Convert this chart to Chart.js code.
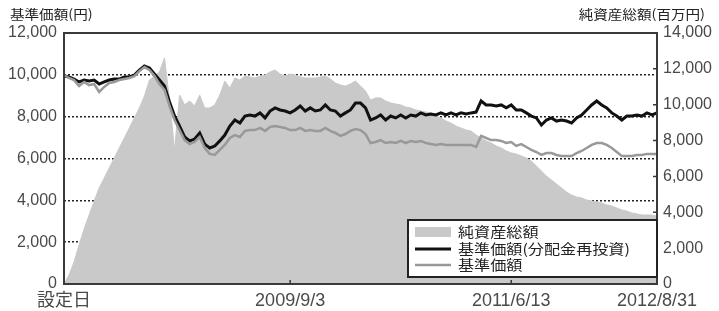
<!DOCTYPE html>
<html>
<head>
<meta charset="utf-8">
<script src="https://cdn.jsdelivr.net/npm/chart.js@4.4.0/dist/chart.umd.min.js"></script>
<style>
  html, body { margin: 0; padding: 0; background: #fff; }
  canvas { display: block; }
</style>
</head>
<body>
<canvas id="c" width="719" height="311"></canvas>
<script>
// x axis: only four dates are labelled, at these point indices
const xTickLabels = ['設定日', '2009/9/3', '2011/6/13', '2012/8/31'];
const xTickIdx = [0, 45, 89, 118];

const leftTicks = [0, 2000, 4000, 6000, 8000, 10000, 12000];
const rightTicks = [0, 2000, 4000, 6000, 8000, 10000, 12000, 14000];

// 純資産総額 (百万円), right axis
const netAssets = [
  0, 500, 1230, 2180, 3070, 3850, 4630, 5360, 5910, 6470,
  7030, 7590, 8140, 8700, 9260, 9820, 10490, 11380, 11600, 11830,
  12610, 10260, 7480, 10540, 9990, 10210, 9930, 10540, 9820, 9820,
  9990, 10540, 11320, 10930, 11490, 11380, 11600, 11550, 11490, 11600,
  11660, 11830, 11940, 11710, 11600, 11710, 11660, 11550, 11490, 11490,
  11490, 11550, 11600, 11440, 11210, 11100, 11040, 11160, 11320, 11040,
  10770, 10260, 10380, 10380, 10210, 10100, 10040, 9990, 9870, 9820,
  9710, 9650, 9590, 9540, 9370, 9260, 9090, 8980, 8810, 8700,
  8590, 8530, 8310, 8140, 7980, 7870, 7700, 7590, 7420, 7310,
  7250, 7140, 7030, 6860, 6580, 6300, 6020, 5800, 5580, 5360,
  5130, 4960, 4850, 4800, 4690, 4630, 4570, 4520, 4410, 4350,
  4240, 4130, 4070, 3960, 3910, 3850, 3850, 3850, 3790
];

// 基準価額(分配金再投資) (円), left axis
const navReinvested = [
  9940, 9900, 9800, 9660, 9750, 9710, 9750, 9560, 9660, 9750,
  9800, 9800, 9900, 9900, 9990, 10230, 10420, 10330, 10040, 9750,
  9470, 8700, 8030, 7550, 7030, 6840, 6930, 7220, 6690, 6500,
  6600, 6840, 7120, 7550, 7840, 7700, 8030, 8080, 8030, 8180,
  7940, 8270, 8420, 8320, 8270, 8180, 8320, 8510, 8270, 8420,
  8270, 8320, 8560, 8320, 8270, 8030, 8180, 8320, 8650, 8650,
  8420, 7840, 7940, 8080, 7840, 8030, 7940, 8080, 7940, 8080,
  8030, 8180, 8080, 8130, 8080, 8180, 8080, 8180, 8080, 8180,
  8130, 8180, 8220, 8750, 8560, 8560, 8510, 8560, 8420, 8560,
  8320, 8320, 8180, 8030, 7940, 7600, 7840, 7940, 7790, 7840,
  7790, 7700, 7940, 8080, 8320, 8560, 8750, 8560, 8420, 8180,
  8030, 7840, 8030, 8030, 8080, 8030, 8180, 8080, 8180
];

// 基準価額 (円), left axis
const nav = [
  9990, 9850, 9750, 9470, 9660, 9510, 9560, 9180, 9420, 9610,
  9660, 9750, 9800, 9850, 9940, 10180, 10370, 10230, 9940, 9560,
  9280, 8510, 7840, 7360, 6880, 6690, 6790, 7030, 6500, 6220,
  6170, 6410, 6650, 6980, 7120, 7030, 7320, 7360, 7360, 7460,
  7320, 7510, 7550, 7510, 7460, 7360, 7360, 7460, 7320, 7360,
  7320, 7320, 7460, 7320, 7220, 7080, 7170, 7320, 7410, 7360,
  7170, 6740, 6790, 6880, 6740, 6790, 6740, 6840, 6740, 6840,
  6790, 6840, 6740, 6690, 6650, 6690, 6650, 6650, 6650, 6650,
  6650, 6650, 6550, 7080, 6980, 6880, 6880, 6840, 6740, 6790,
  6600, 6690, 6550, 6410, 6310, 6170, 6260, 6260, 6170, 6120,
  6120, 6120, 6260, 6360, 6500, 6650, 6740, 6740, 6650, 6500,
  6310, 6120, 6120, 6120, 6170, 6170, 6220, 6220, 6220
];

const TICK_COLOR = '#4a4a4a';
const FRAME_COLOR = '#3a3a3a';

// frame, small axis ticks, axis titles and the boxed legend inside the plot
const decorations = {
  id: 'decorations',
  afterDraw(chart) {
    const ctx = chart.ctx;
    const a = chart.chartArea;
    ctx.save();
    ctx.strokeStyle = FRAME_COLOR;
    ctx.lineWidth = 2;
    ctx.strokeRect(a.left, a.top, a.right - a.left, a.bottom - a.top);

    // little inner ticks on the right axis and on the bottom axis
    ctx.lineWidth = 1.5;
    ctx.beginPath();
    rightTicks.forEach(v => {
      const y = chart.scales.y2.getPixelForValue(v);
      ctx.moveTo(a.right - 4, y);
      ctx.lineTo(a.right, y);
    });
    xTickIdx.slice(1, 3).forEach(i => {
      const x = chart.scales.x.getPixelForValue(i);
      ctx.moveTo(x, a.bottom);
      ctx.lineTo(x, a.bottom - 4);
    });
    ctx.stroke();

    // axis titles (the scan is a bit stretched sideways)
    ctx.fillStyle = '#222';
    ctx.font = '13px "Noto Sans CJK JP"';
    ctx.textBaseline = 'middle';
    ctx.save();
    ctx.translate(10, 14);
    ctx.scale(1.12, 1);
    ctx.textAlign = 'left';
    ctx.fillText('基準価額(円)', 0, 0);
    ctx.restore();
    ctx.save();
    ctx.translate(705, 14);
    ctx.scale(1.12, 1);
    ctx.textAlign = 'right';
    ctx.fillText('純資産総額(百万円)', 0, 0);
    ctx.restore();

    // legend box
    const bx = 408, by = 220, bw = a.right - 408, bh = 57;
    ctx.fillStyle = '#fff';
    ctx.fillRect(bx, by, bw, bh);
    ctx.strokeStyle = '#222';
    ctx.lineWidth = 2;
    ctx.strokeRect(bx, by, bw, bh);

    const rows = [232, 249, 265];
    chart.data.datasets.slice().reverse().forEach((ds, i) => {
      const y = rows[i];
      if (ds.fill) {
        ctx.fillStyle = ds.backgroundColor;
        ctx.fillRect(415, y - 5, 36, 10);
      } else {
        ctx.strokeStyle = ds.borderColor;
        ctx.lineWidth = ds.borderWidth;
        ctx.beginPath();
        ctx.moveTo(415, y);
        ctx.lineTo(451, y);
        ctx.stroke();
      }
      ctx.save();
      ctx.translate(458, y);
      ctx.scale(1.15, 1);
      ctx.fillStyle = '#222';
      ctx.font = '14px "Noto Sans CJK JP"';
      ctx.textAlign = 'left';
      ctx.fillText(ds.label, 0, 0);
      ctx.restore();
    });
    ctx.restore();
  }
};

const fmt = v => v.toLocaleString('en-US');

new Chart(document.getElementById('c'), {
  type: 'line',
  data: {
    labels: netAssets.map((_, i) => i),
    datasets: [
      {
        label: '基準価額',
        data: nav,
        yAxisID: 'y',
        borderColor: '#999',
        borderWidth: 2.5,
        pointRadius: 0,
        fill: false,
        order: 0
      },
      {
        label: '基準価額(分配金再投資)',
        data: navReinvested,
        yAxisID: 'y',
        borderColor: '#111',
        borderWidth: 3,
        pointRadius: 0,
        fill: false,
        order: 1
      },
      {
        label: '純資産総額',
        data: netAssets,
        yAxisID: 'y2',
        borderColor: '#c9c9c9',
        backgroundColor: '#c9c9c9',
        borderWidth: 1,
        pointRadius: 0,
        fill: 'origin',
        order: 2
      }
    ]
  },
  options: {
    responsive: false,
    devicePixelRatio: 1,
    animation: false,
    events: [],
    layout: { padding: { top: 33, left: 0, right: 0, bottom: 0 } },
    plugins: { legend: { display: false }, tooltip: { enabled: false } },
    scales: {
      x: {
        type: 'category',
        offset: false,
        grid: { display: false, drawTicks: false },
        border: { display: false },
        ticks: {
          autoSkip: false,
          maxRotation: 0,
          padding: 6,
          color: TICK_COLOR,
          font: { family: '"Liberation Sans", "Noto Sans CJK JP"', size: 18 },
          callback: (v, i) => {
            const k = xTickIdx.indexOf(i);
            return k < 0 ? '' : xTickLabels[k];
          }
        },
        afterFit: s => { s.height = 27; }
      },
      y: {
        position: 'left',
        min: 0,
        max: 12000,
        afterBuildTicks: s => { s.ticks = leftTicks.map(v => ({ value: v })); },
        grid: {
          drawTicks: false,
          lineWidth: 1.5,
          color: c => (c.tick.value === 0 || c.tick.value === 12000) ? 'rgba(0,0,0,0)' : '#222'
        },
        border: { display: false, dash: [2, 2] },
        ticks: {
          padding: 7,
          color: TICK_COLOR,
          font: { family: 'Liberation Sans', size: 16 },
          callback: v => fmt(v)
        },
        afterFit: s => { s.width = 64; }
      },
      y2: {
        position: 'right',
        min: 0,
        max: 14000,
        afterBuildTicks: s => { s.ticks = rightTicks.map(v => ({ value: v })); },
        grid: { drawOnChartArea: false, drawTicks: false },
        border: { display: false },
        ticks: {
          padding: 6,
          color: TICK_COLOR,
          font: { family: 'Liberation Sans', size: 16 },
          callback: v => fmt(v)
        },
        afterFit: s => { s.width = 62; }
      }
    }
  },
  plugins: [decorations]
});
</script>
</body>
</html>
